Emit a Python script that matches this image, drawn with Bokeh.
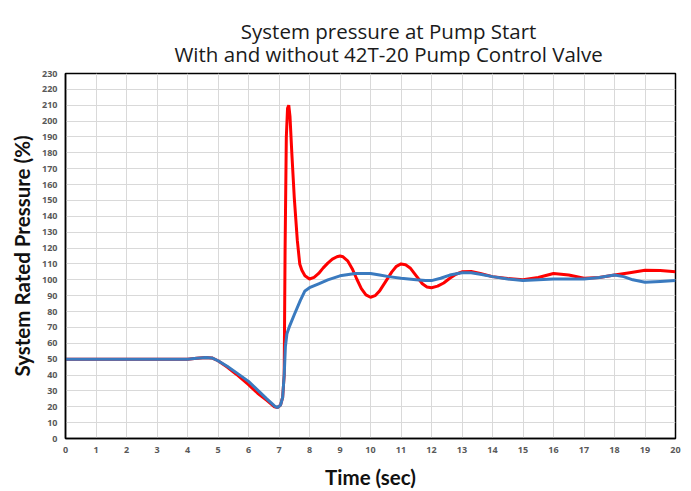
from bokeh.plotting import figure
from bokeh.layouts import column
from bokeh.models import Range1d, FixedTicker
from bokeh.core.properties import value
from bokeh.embed import file_html
from bokeh.resources import INLINE

# ---- data ----
red_t = [0, 1, 2, 3, 4, 4.3, 4.6, 4.8, 5.0, 5.3, 5.6, 6.0, 6.3, 6.6, 6.85, 6.95, 7.05,
         7.12, 7.17, 7.2, 7.24, 7.28, 7.32, 7.36, 7.42, 7.5, 7.6, 7.68, 7.75, 7.85, 8.0,
         8.15, 8.3, 8.45, 8.6, 8.75, 8.9, 9.0, 9.1, 9.25, 9.4, 9.55, 9.7, 9.85, 10.0,
         10.15, 10.3, 10.5, 10.7, 10.85, 11.0, 11.15, 11.3, 11.5, 11.7, 11.85, 12.0,
         12.2, 12.4, 12.6, 12.8, 13.0, 13.3, 13.6, 14.0, 14.5, 15.0, 15.5, 16.0, 16.5,
         17.0, 17.5, 18.0, 18.5, 19.0, 19.5, 20.0]
red_v = [50, 50, 50, 50, 50, 50.5, 51, 50.8, 49, 45, 40.5, 34, 28.5, 24, 20, 19.5, 21,
         26, 40, 120, 190, 208, 210, 203, 180, 152, 125, 110, 106, 102.5, 100.5,
         101.5, 104, 107.5, 110.5, 113, 114.5, 115, 114.5, 112, 107, 100.5, 94.5, 90.5, 89,
         90, 93, 99, 105, 108.5, 110, 109.5, 107.5, 102.5, 97.5, 95.5, 95,
         96, 98, 101, 103.5, 105, 105.2, 104, 102, 100.8, 100, 101.5, 104, 103,
         101, 101.5, 103, 104.5, 106, 105.8, 105]

blue_t = [0, 1, 2, 3, 4, 4.3, 4.6, 4.8, 5.0, 5.3, 5.6, 6.0, 6.3, 6.6, 6.85, 6.95, 7.05,
          7.12, 7.17, 7.21, 7.26, 7.35, 7.5, 7.7, 7.85, 8.0, 8.3, 8.6, 9.0, 9.5, 10.0,
          10.3, 10.6, 11.0, 11.5, 11.8, 12.0, 12.3, 12.6, 13.0, 13.3, 13.6, 14.0, 14.5,
          15.0, 15.5, 16.0, 16.5, 17.0, 17.5, 18.0, 18.3, 18.6, 19.0, 19.5, 20.0]
blue_v = [50, 50, 50, 50, 50, 50.5, 51, 50.8, 49, 45.5, 41.5, 36, 30.5, 25, 20.5, 19.5, 21,
          26, 40, 58, 66, 71, 78, 87, 93, 95, 97.5, 100, 102.5, 104, 104,
          103, 102, 101, 100, 99.5, 99.5, 101, 103, 104.5, 104.5, 103.5, 102, 100.5,
          99.5, 100, 100.5, 100.5, 100.5, 101.5, 103, 102, 100, 98.5, 99, 99.5]

x_ticks = list(range(0, 21))
y_ticks = list(range(0, 231, 10))

title_lines = ["System pressure at Pump Start", "With and without 42T-20 Pump Control Valve"]
x_label = "Time (sec)"
y_label = "System Rated Pressure (%)"

W, HEAD_H = 691, 66
MAIN_H = 491 - HEAD_H

# ---- header figure holding the two centred title lines ----
head = figure(width=W, height=HEAD_H, output_backend="svg", toolbar_location=None,
              x_range=Range1d(0, W), y_range=Range1d(0, HEAD_H),
              x_axis_type=None, y_axis_type=None,
              min_border_left=0, min_border_right=0, min_border_top=0, min_border_bottom=0)
head.grid.visible = False
head.outline_line_color = None
head.text(x=[366, 366], y=[HEAD_H - 30, HEAD_H - 53], text=title_lines,
          text_align="center", text_baseline="alphabetic",
          text_font=value("Open Sans"), text_font_size="20.5px", text_color="#1a1a1a")

# ---- main chart ----
p = figure(width=W, height=MAIN_H, output_backend="svg", toolbar_location=None,
           x_range=Range1d(0, 20), y_range=Range1d(0, 230),
           min_border_left=65, min_border_right=16, min_border_top=7, min_border_bottom=51)

p.outline_line_color = "black"
p.outline_line_width = 1.5

p.xgrid.ticker = FixedTicker(ticks=x_ticks)
p.ygrid.ticker = FixedTicker(ticks=y_ticks)
p.xaxis.ticker = FixedTicker(ticks=x_ticks)
p.yaxis.ticker = FixedTicker(ticks=y_ticks)
for g in (p.xgrid, p.ygrid):
    g.grid_line_color = "#d9d9d9"
    g.grid_line_width = 1

for ax in (p.xaxis, p.yaxis):
    ax.axis_line_color = "black"
    ax.axis_line_width = 1.5
    ax.major_tick_line_color = None
    ax.minor_tick_line_color = None
    ax.major_tick_out = 0
    ax.major_tick_in = 0
    ax.minor_tick_out = 0
    ax.minor_tick_in = 0
    ax.major_label_text_font = "Open Sans"
    ax.major_label_text_font_size = "9px"
    ax.major_label_text_font_style = "bold"
    ax.major_label_text_color = "#595959"
    ax.axis_label_text_font = "Lato"
    ax.axis_label_text_font_size = "20.5px"
    ax.axis_label_text_font_style = "bold"
    ax.axis_label_text_color = "#111111"

p.xaxis.axis_label = x_label
p.yaxis.axis_label = y_label
p.xaxis.major_label_standoff = 8
p.yaxis.major_label_standoff = 8
p.xaxis.axis_label_standoff = 9
p.yaxis.axis_label_standoff = 5

p.line(red_t, red_v, line_color="#ff0000", line_width=3)
p.line(blue_t, blue_v, line_color="#3a7abf", line_width=3)

layout = column(head, p, spacing=0)
open("out.html", "w").write(file_html(layout, INLINE))
